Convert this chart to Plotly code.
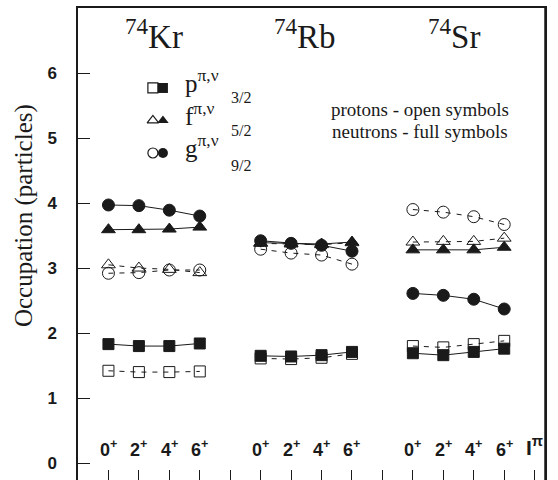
import plotly.graph_objects as go

# ---------------- data ----------------
states = ["0<sup>+</sup>", "2<sup>+</sup>", "4<sup>+</sup>", "6<sup>+</sup>"]
nuclei = ["Kr", "Rb", "Sr"]
kr_x = [1, 2, 3, 4]
rb_x = [6, 7, 8, 9]
sr_x = [11, 12, 13, 14]
spin_x = 15
yticks = [0, 1, 2, 3, 4, 5, 6]

# 74Kr
kr_p_n = [1.83, 1.80, 1.80, 1.84]
kr_p_p = [1.42, 1.40, 1.40, 1.41]
kr_f_n = [3.59, 3.59, 3.60, 3.63]
kr_f_p = [3.05, 3.00, 2.98, 2.93]
kr_g_n = [3.97, 3.96, 3.89, 3.80]
kr_g_p = [2.92, 2.93, 2.97, 2.97]

# 74Rb
rb_p_n = [1.65, 1.64, 1.66, 1.71]
rb_p_p = [1.61, 1.60, 1.62, 1.68]
rb_f_n = [3.39, 3.38, 3.37, 3.40]
rb_f_p = [3.38, 3.37, 3.36, 3.39]
rb_g_n = [3.42, 3.38, 3.35, 3.26]
rb_g_p = [3.29, 3.23, 3.20, 3.06]

# 74Sr
sr_p_n = [1.69, 1.66, 1.71, 1.76]
sr_p_p = [1.80, 1.78, 1.83, 1.88]
sr_f_n = [3.28, 3.28, 3.28, 3.32]
sr_f_p = [3.40, 3.41, 3.41, 3.46]
sr_g_n = [2.61, 2.58, 2.52, 2.37]
sr_g_p = [3.90, 3.86, 3.79, 3.67]

INK = "#1a1a1a"
SERIF = "Liberation Serif"
SANS = "Liberation Sans"

fig = go.Figure()

def add(x, y, symbol, proton):
    fig.add_trace(go.Scatter(
        x=x, y=y, mode="lines+markers",
        line=dict(color=INK, width=1, dash="5px,6px" if proton else "solid"),
        marker=dict(symbol=symbol, size=11 if "square" in symbol else 12,
                    color=INK, line=dict(color=INK, width=1)),
        showlegend=False, hoverinfo="skip"))

groups = [
    (kr_x, kr_p_p, kr_p_n, kr_f_p, kr_f_n, kr_g_p, kr_g_n),
    (rb_x, rb_p_p, rb_p_n, rb_f_p, rb_f_n, rb_g_p, rb_g_n),
    (sr_x, sr_p_p, sr_p_n, sr_f_p, sr_f_n, sr_g_p, sr_g_n),
]
for gx, pp, pn, fp, fn, gp, gn in groups:
    add(gx, pp, "square-open", True)
    add(gx, fp, "triangle-up-open", True)
    add(gx, gp, "circle-open", True)
    add(gx, pn, "square", False)
    add(gx, fn, "triangle-up", False)
    add(gx, gn, "circle", False)

# legend markers
leg_open_x, leg_full_x = 2.46, 2.79
leg_y = [5.77, 5.27, 4.77]
for sym, yy in zip(["square", "triangle-up", "circle"], leg_y):
    fig.add_trace(go.Scatter(x=[leg_open_x], y=[yy], mode="markers",
                             marker=dict(symbol=sym + "-open", size=10, color=INK,
                                         line=dict(color=INK, width=1.2)),
                             showlegend=False, hoverinfo="skip"))
    fig.add_trace(go.Scatter(x=[leg_full_x], y=[yy], mode="markers",
                             marker=dict(symbol=sym, size=10, color=INK),
                             showlegend=False, hoverinfo="skip"))

ann = []
for gx in (kr_x, rb_x, sr_x):
    for xx, s in zip(gx, states):
        ann.append(dict(x=xx, y=0.22, text=s, showarrow=False,
                        font=dict(family=SANS, size=18, color=INK, weight="bold")))
ann.append(dict(x=spin_x, y=0.27, text="I<sup>π</sup>", showarrow=False,
                font=dict(family=SANS, size=21, color=INK, weight="bold")))

for nx, name in zip([2.5, 7.45, 12.35], nuclei):
    ann.append(dict(x=nx, y=6.6, text="<sup>74</sup>" + name, showarrow=False,
                    font=dict(family=SERIF, size=33, color=INK)))

letters = ["p", "f", "g"]
fracs = ["3/2", "5/2", "9/2"]
frac_y = [5.63, 5.12, 4.58]
for L, fr, yy, fy in zip(letters, fracs, leg_y, frac_y):
    ann.append(dict(x=3.45, y=yy + 0.1, text=L + "<sup>π,ν</sup>", showarrow=False,
                    xanchor="left", font=dict(family=SERIF, size=25, color=INK)))
    ann.append(dict(x=5.35, y=fy, text=fr, showarrow=False,
                    font=dict(family=SERIF, size=16, color=INK)))

ann.append(dict(x=11.23, y=5.44, text="protons - open symbols", showarrow=False,
                font=dict(family=SERIF, size=19, color=INK)))
ann.append(dict(x=11.23, y=5.1, text="neutrons - full symbols", showarrow=False,
                font=dict(family=SERIF, size=19, color=INK)))

ann.append(dict(xref="paper", yref="paper", x=-0.116, y=0.561, xanchor="center",
                yanchor="middle",
                text="Occupation (particles)", textangle=-90, showarrow=False,
                font=dict(family=SERIF, size=25, color=INK)))

fig.update_layout(
    width=558, height=480,
    margin=dict(l=78, r=13, t=8, b=0),
    paper_bgcolor="white", plot_bgcolor="white",
    annotations=ann,
    shapes=[dict(type="line", xref="paper", yref="paper", x0=1, x1=1,
                 y0=0, y1=1, line=dict(color=INK, width=1.5))],
    xaxis=dict(range=[0, 15.34], tickvals=list(range(1, 16)), ticks="inside",
               ticklen=10, tickcolor=INK, tickwidth=1, showticklabels=False,
               showline=True, linecolor=INK, linewidth=1.5, mirror=True,
               showgrid=False, zeroline=False),
    yaxis=dict(range=[-0.26, 7.0], tickvals=yticks, ticks="inside",
               ticklen=12, tickcolor=INK, tickwidth=1,
               tickfont=dict(family=SANS, size=17, color=INK, weight="bold"),
               ticklabelstandoff=16,
               showline=True, linecolor=INK, linewidth=1.5, mirror=True,
               showgrid=False, zeroline=False),
)

fig.write_html("out.html", config={"displayModeBar": False},
               post_script="document.documentElement.style.margin='0px';"
                           "document.documentElement.style.overflow='hidden';"
                           "document.body.style.margin='0px';"
                           "document.body.style.overflow='hidden';")
